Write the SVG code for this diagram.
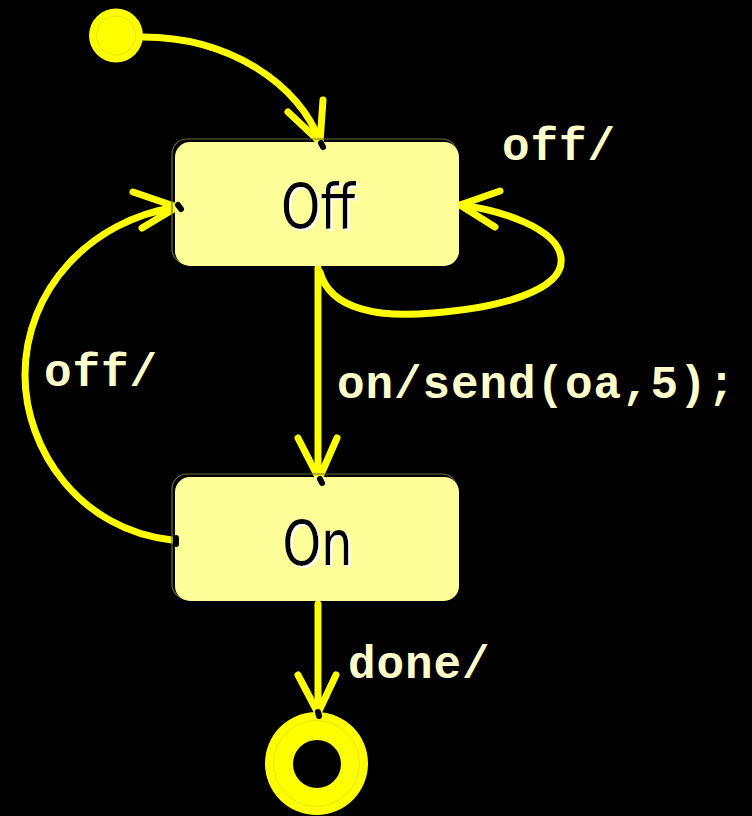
<svg xmlns="http://www.w3.org/2000/svg" width="752" height="816" viewBox="0 0 752 816">
<defs>
<filter id="wshadow" x="-20%" y="-20%" width="140%" height="140%">
  <feOffset in="SourceAlpha" dx="2" dy="2" result="off"/>
  <feFlood flood-color="#FFFFFF"/>
  <feComposite in2="off" operator="in" result="sh"/>
  <feMerge><feMergeNode in="sh"/><feMergeNode in="SourceGraphic"/></feMerge>
</filter>
</defs>
<style>
.edge{fill:none;stroke:#FFFF00;stroke-width:7;stroke-linecap:round;stroke-linejoin:round}
.stub{stroke:#000;stroke-width:6;stroke-linecap:round}
.box{fill:#FFFF99}
.boxshadow{fill:none;stroke:#6b6b3a;stroke-width:1.2}
.name{font-family:"DejaVu Sans","Liberation Sans",sans-serif;font-size:63px;text-anchor:middle;fill:#000;filter:url(#wshadow)}
.lbl{font-family:"Liberation Mono","Courier New",monospace;font-weight:bold;font-size:46px;letter-spacing:0.9px;fill:#FFFFCC}
</style>
<rect width="752" height="816" fill="#000"/>
<g id="connectors">
  <g id="e-init">
    <path class="edge" d="M143,37 C230,37 300,85 320,142"/>
    <path class="edge" d="M288,112 L320,142 L323,100"/>
  </g>
  <g id="e-self">
    <path class="edge" d="M320,272 C330,310 380,318 433,313 C500,308 565,290 561,258 C558,228 500,210 460,205"/>
    <path class="edge" d="M500,191 L460,205 L495,227"/>
  </g>
  <g id="e-on">
    <path class="edge" d="M318,268 L318,478"/>
    <path class="edge" d="M298,438 L319,479 L337,438"/>
  </g>
  <g id="e-off">
    <path class="edge" d="M172,540 C80,530 25,450 25,375 C25,290 90,220 177,207"/>
    <path class="edge" d="M133,192 L177,207 L142,228"/>
  </g>
  <g id="e-done">
    <path class="edge" d="M318,604 L318,713"/>
    <path class="edge" d="M298,675 L318,713 L336,675"/>
  </g>
  <text class="lbl" x="502" y="160">off/</text>
  <text class="lbl" x="337" y="398">on/send(oa,5);</text>
  <text class="lbl" x="44" y="386">off/</text>
  <text class="lbl" x="348" y="678">done/</text>
</g>
<g id="initial">
  <circle cx="116" cy="35.5" r="27" fill="#FFFF00"/>
  <circle cx="116" cy="35.5" r="19.5" fill="none" stroke="#c8c800" stroke-width="0.5"/>
</g>
<g id="Off">
  <rect class="boxshadow" x="172" y="139" width="285" height="125" rx="15"/>
  <rect class="box" x="175" y="142" width="284" height="124" rx="15"/>
  <line class="stub" x1="321" y1="143" x2="323" y2="147"/>
  <line class="stub" x1="178" y1="205" x2="181" y2="209"/>
  <text class="name" x="318" y="228" textLength="74" lengthAdjust="spacingAndGlyphs">Off</text>
</g>
<g id="On">
  <rect class="boxshadow" x="172" y="474" width="285" height="125" rx="15"/>
  <rect class="box" x="175" y="477" width="284" height="124" rx="15"/>
  <line class="stub" x1="320" y1="479" x2="322" y2="483"/>
  <line class="stub" x1="176" y1="538" x2="176" y2="544"/>
  <text class="name" x="317.5" y="565" textLength="70" lengthAdjust="spacingAndGlyphs">On</text>
</g>
<g id="final">
  <circle cx="316.5" cy="763.5" r="51.5" fill="#FFFF00"/>
  <circle cx="316.5" cy="763.5" r="43" fill="none" stroke="#c8c800" stroke-width="0.5"/>
  <circle cx="317" cy="764" r="24" fill="#000"/>
  <line class="stub" x1="318" y1="712" x2="319" y2="716"/>
</g>
</svg>
